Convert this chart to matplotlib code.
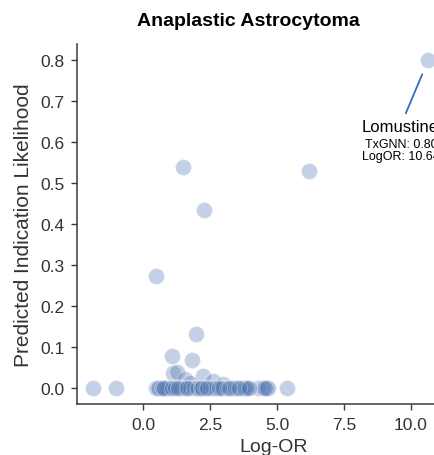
import matplotlib
matplotlib.use("Agg")
import matplotlib.pyplot as plt

plt.rcParams["font.family"] = ["Liberation Sans", "DejaVu Sans"]

title = "Anaplastic Astrocytoma"
x_label = "Log-OR"
y_label = "Predicted Indication Likelihood"

# Drug-level scores: log odds ratio vs. predicted indication likelihood
log_or = [
    10.64, 1.48, 6.21, 2.26, 0.48, 1.97, 1.07, 1.82,
    1.13, 1.28, 1.57, 2.23, 2.62, 1.75, 3.00,
    -1.85, -1.02, 5.38, 4.68, 4.30, 4.48,
    0.49, 0.60, 0.75, 0.85, 0.90, 0.95, 1.01, 1.38, 1.45, 1.57,
    1.75, 1.90, 2.01, 2.05, 2.20, 2.31, 2.50, 2.60, 2.72, 2.91,
    3.00, 3.13, 3.30, 3.36, 3.45, 3.51, 3.69, 3.77, 3.80, 3.88, 4.63,
    0.55, 0.70, 0.80, 1.10, 1.20, 1.30, 1.65, 2.15, 2.40, 2.85,
    3.20, 3.60, 3.95, 4.55,
]
likelihood = [
    0.80, 0.54, 0.53, 0.435, 0.274, 0.132, 0.079, 0.069,
    0.036, 0.038, 0.022, 0.030, 0.018, 0.012, 0.010,
    0.0, 0.0, 0.0, 0.0, 0.0, 0.0,
    0.0, 0.0, 0.0, 0.0, 0.0, 0.0, 0.0, 0.0, 0.0, 0.0,
    0.0, 0.0, 0.0, 0.0, 0.0, 0.0, 0.0, 0.0, 0.0, 0.0,
    0.0, 0.0, 0.0, 0.0, 0.0, 0.0, 0.0, 0.0, 0.0, 0.0, 0.0,
    0.0, 0.0, 0.0, 0.0, 0.0, 0.0, 0.0, 0.0, 0.0, 0.0,
    0.0, 0.0, 0.0, 0.0,
]

label_drug = "Lomustine"
label_x = 10.64
label_y = 0.80

x_ticks = [0.0, 2.5, 5.0, 7.5, 10.0]
y_ticks = [0.0, 0.1, 0.2, 0.3, 0.4, 0.5, 0.6, 0.7, 0.8]

fig = plt.figure(figsize=(4.35, 4.56), dpi=100)
ax = fig.add_axes([0.177, 0.1118, 0.9034, 0.789])

ax.scatter(log_or, likelihood, s=135, color="#4c72b0", alpha=0.33,
           edgecolors="white", linewidths=1.0, zorder=3)

ax.set_xlim(-2.46, 12.2)
ax.set_ylim(-0.039, 0.839)
ax.set_xticks(x_ticks)
ax.set_xticklabels([f"{v:.1f}" for v in x_ticks])
ax.set_yticks(y_ticks)
ax.set_yticklabels([f"{v:.1f}" for v in y_ticks])

for side in ("top", "right"):
    ax.spines[side].set_visible(False)
for side in ("left", "bottom"):
    ax.spines[side].set_color("#3a3a3a")
    ax.spines[side].set_linewidth(1.1)

ax.tick_params(axis="both", length=4.5, width=1.0, color="#3a3a3a",
               labelsize=12.5, labelcolor="#333333", pad=4.5)
ax.tick_params(axis="x", pad=5)

ax.set_xlabel(x_label, fontsize=14, color="#333333", labelpad=4)
ax.set_ylabel(y_label, fontsize=15, color="#333333", labelpad=5)
ax.set_title(title, fontsize=14, fontweight="bold", x=0.435, pad=14)

ax.annotate(label_drug, xy=(label_x, label_y), xytext=(-20, -47.5),
            textcoords="offset points", ha="center", va="center",
            fontsize=12, color="black", annotation_clip=False,
            arrowprops=dict(arrowstyle="-", color="#3a66c4", lw=1.3,
                            shrinkA=2, shrinkB=11))
ax.annotate(f"TxGNN: {label_y:.2f}", xy=(label_x, label_y), xytext=(-19.4, -60.5),
            textcoords="offset points", ha="center", va="center",
            fontsize=9, color="black", annotation_clip=False)
ax.annotate(f"LogOR: {label_x:.2f}", xy=(label_x, label_y), xytext=(-20, -68.8),
            textcoords="offset points", ha="center", va="center",
            fontsize=9, color="black", annotation_clip=False)

fig.savefig("out.png", dpi=100)
